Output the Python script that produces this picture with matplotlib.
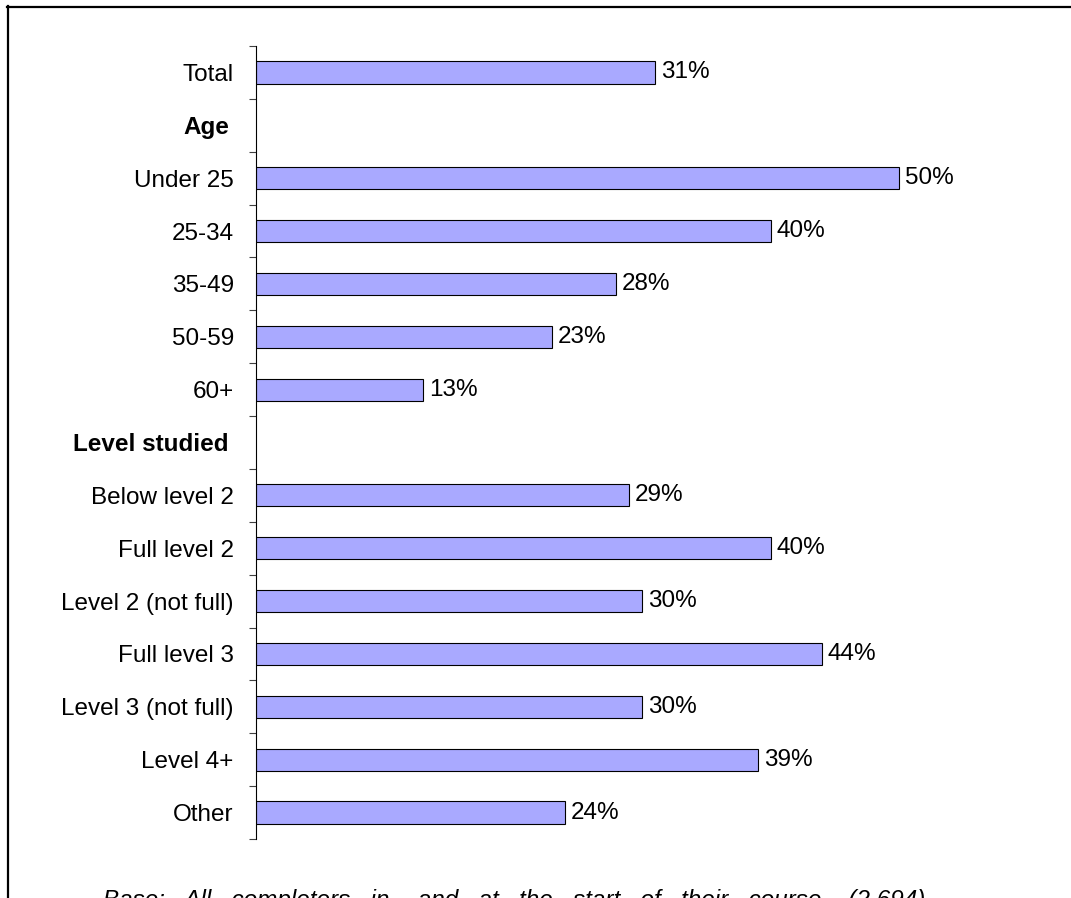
import matplotlib.pyplot as plt
from matplotlib.lines import Line2D
from matplotlib.ticker import FixedLocator
from matplotlib.transforms import ScaledTranslation

plt.rcParams['font.family'] = ['Liberation Sans', 'DejaVu Sans']

# rows from top to bottom; None marks a section heading without a bar
categories = ['Total', 'Age', 'Under 25', '25-34', '35-49', '50-59', '60+',
              'Level studied', 'Below level 2', 'Full level 2',
              'Level 2 (not full)', 'Full level 3', 'Level 3 (not full)',
              'Level 4+', 'Other']
values = [31, None, 50, 40, 28, 23, 13,
          None, 29, 40, 30, 44, 30, 39, 24]
headings = ['Age', 'Level studied']
base_note = 'Base:   All   completers   in-   and   at   the   start   of   their   course    (2,694)'

W, H = 1071, 898
FS = 17.5
fig = plt.figure(figsize=(W / 100, H / 100), dpi=100)
ax = fig.add_axes([256 / W, 1 - 839 / H, (1028 - 256) / W, (839 - 46) / H])

n = len(categories)
ypos = list(range(n))
for y, v in zip(ypos, values):
    if v is None:
        continue
    ax.barh(y, v, height=0.42, color='#A9A9FF', edgecolor='black', linewidth=0.8)
    ax.text(v + 0.45, y, f'{v}%', va='center', ha='left', fontsize=FS)

ax.set_xlim(0, 60)
ax.set_ylim(n - 0.5, -0.5)

# labels at row centres, tick marks on the row boundaries
ax.yaxis.set_major_locator(FixedLocator(ypos))
ax.set_yticklabels(categories, fontsize=FS)
ax.yaxis.set_minor_locator(FixedLocator([i - 0.5 for i in range(n + 1)]))
ax.tick_params(axis='y', which='major', length=0, pad=16)
ax.tick_params(axis='y', which='minor', length=5, width=0.8, color='#404040')

# section headings: bold and nudged a little further from the axis
shift = ScaledTranslation(-5 / 100, 0, fig.dpi_scale_trans)
for lab in ax.get_yticklabels():
    if lab.get_text() in headings:
        lab.set_fontweight('bold')
        lab.set_transform(lab.get_transform() + shift)

ax.set_xticks([])
for side in ['top', 'right', 'bottom']:
    ax.spines[side].set_visible(False)
ax.spines['left'].set_linewidth(0.8)

# frame around the chart area
fig.add_artist(Line2D([7.5 / W, 7.5 / W], [1 - 6 / H, 0], transform=fig.transFigure,
                      color='black', linewidth=1.6))
fig.add_artist(Line2D([7 / W, 1], [1 - 6.5 / H, 1 - 6.5 / H], transform=fig.transFigure,
                      color='black', linewidth=1.6))

fig.text(103 / W, 1 - 907 / H, base_note, fontsize=FS, style='italic',
         ha='left', va='baseline')

fig.savefig('out.png', dpi=100)
